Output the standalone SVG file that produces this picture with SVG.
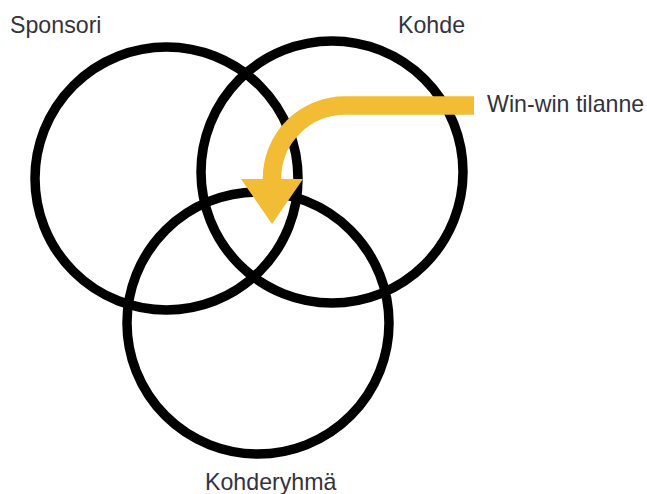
<svg xmlns="http://www.w3.org/2000/svg" width="647" height="494" viewBox="0 0 647 494">
  <style>
    .ring { fill: none; stroke: #000; stroke-width: 9.5; }
    .label { font-family: "Liberation Sans", Arial, sans-serif; font-size: 23.2px; fill: #333340; }
    .flow { fill: none; stroke: #f2bc35; stroke-width: 18.5; }
    .head { fill: #f2bc35; }
  </style>
  <rect width="647" height="494" fill="#fff"/>

  <g id="sponsori">
    <circle class="ring" cx="166.5" cy="178.5" r="131.5"/>
    <text class="label" x="10" y="33">Sponsori</text>
  </g>

  <g id="kohde">
    <circle class="ring" cx="332" cy="172" r="131"/>
    <text class="label" x="398" y="33">Kohde</text>
  </g>

  <g id="kohderyhma">
    <circle class="ring" cx="258" cy="323" r="131"/>
    <text class="label" x="205" y="490">Kohderyhmä</text>
  </g>

  <g id="win-win">
    <text class="label" x="487" y="112">Win-win tilanne</text>
  </g>

  <g id="connectors">
    <path class="flow" d="M474,105.5 H345 A73,73 0 0 0 272,178.5 V182"/>
    <polygon class="head" points="241,179 303,179 272,224"/>
  </g>
</svg>
